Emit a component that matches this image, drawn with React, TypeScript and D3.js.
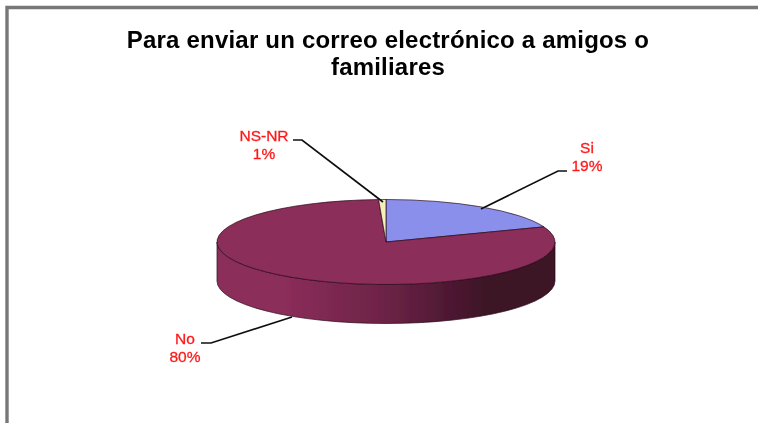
import React from "react";
import * as d3 from "d3";

const categories = ["Si", "No", "NS-NR"];
const values = [19.2, 80.1, 0.7];
const colors = ["#8b8fec", "#8b2d5a", "#f4f0b8"];
const titleLines = ["Para enviar un correo electrónico a amigos o", "familiares"];

const W = 758, H = 423;
const cx = 386, cy = 242, rx = 169, ry = 42.5, depth = 39;

const pieGen = d3.pie<number>().sort(null).value((d) => d);
const arcs = pieGen(values);
const arcGen = d3.arc<d3.PieArcDatum<number>>().innerRadius(0).outerRadius(rx);

const wallD = `M${cx - rx},${cy} A${rx},${ry} 0 0 0 ${cx + rx},${cy} L${cx + rx},${cy + depth} A${rx},${ry} 0 0 1 ${cx - rx},${cy + depth} Z`;

const labels = [
  { i: 0, x: 587, y: 153, leader: [[481, 209], [558, 171], [567, 171]] },
  { i: 1, x: 185, y: 344, leader: [[292, 317], [211, 343], [201, 343]] },
  { i: 2, x: 264, y: 141, leader: [[383, 202], [302, 140], [293, 140]] },
];
const lineGen = d3.line();

export default function App() {
  return (
    <svg width={W} height={H} style={{ position: "absolute", left: 0, top: 0, background: "#fff" }}
      fontFamily="'Liberation Sans', Arial, sans-serif">
      <defs>
        <linearGradient id="wall" gradientUnits="userSpaceOnUse" x1={cx - rx} x2={cx + rx} y1="0" y2="0">
          <stop offset="0" stopColor="#8b2d5a" />
          <stop offset="0.2" stopColor="#8b2d5a" />
          <stop offset="0.5" stopColor="#6c2346" />
          <stop offset="0.8" stopColor="#3c1226" />
          <stop offset="1" stopColor="#3c1226" />
        </linearGradient>
        <filter id="soft" x="-5%" y="-5%" width="110%" height="110%">
          <feGaussianBlur stdDeviation="0.45" />
        </filter>
      </defs>
      <g filter="url(#soft)">
        <path d={`M7,${H} L7,7.5 L${W},7.5`} fill="none" stroke="#777" strokeWidth={3.4} />
        <text textAnchor="middle" fontSize={24} fontWeight={700} fill="#000" letterSpacing={0.2}>
          {titleLines.map((t, i) => (
            <tspan key={t} x={388} y={48 + i * 27}>{t}</tspan>
          ))}
        </text>
        <path d={wallD} fill="url(#wall)" stroke="#2a0c1a" strokeWidth={0.7} />
        <g transform={`translate(${cx},${cy}) scale(1,${ry / rx})`}>
          {arcs.map((a, i) => (
            <path key={categories[i]} d={arcGen(a) ?? ""} fill={colors[i]} stroke="#2a0c1a"
              strokeWidth={0.7} vectorEffect="non-scaling-stroke" />
          ))}
        </g>
        {labels.map((l) => (
          <g key={l.i}>
            <path d={lineGen(l.leader as [number, number][]) ?? ""} fill="none" stroke="#111" strokeWidth={1.7} />
            <text textAnchor="middle" fontSize={15.5} fill="#ff1a1a" stroke="#ff1a1a" strokeWidth={0.3}>
              <tspan x={l.x} y={l.y}>{categories[l.i]}</tspan>
              <tspan x={l.x} y={l.y + 18}>{`${Math.round(values[l.i])}%`}</tspan>
            </text>
          </g>
        ))}
      </g>
    </svg>
  );
}
